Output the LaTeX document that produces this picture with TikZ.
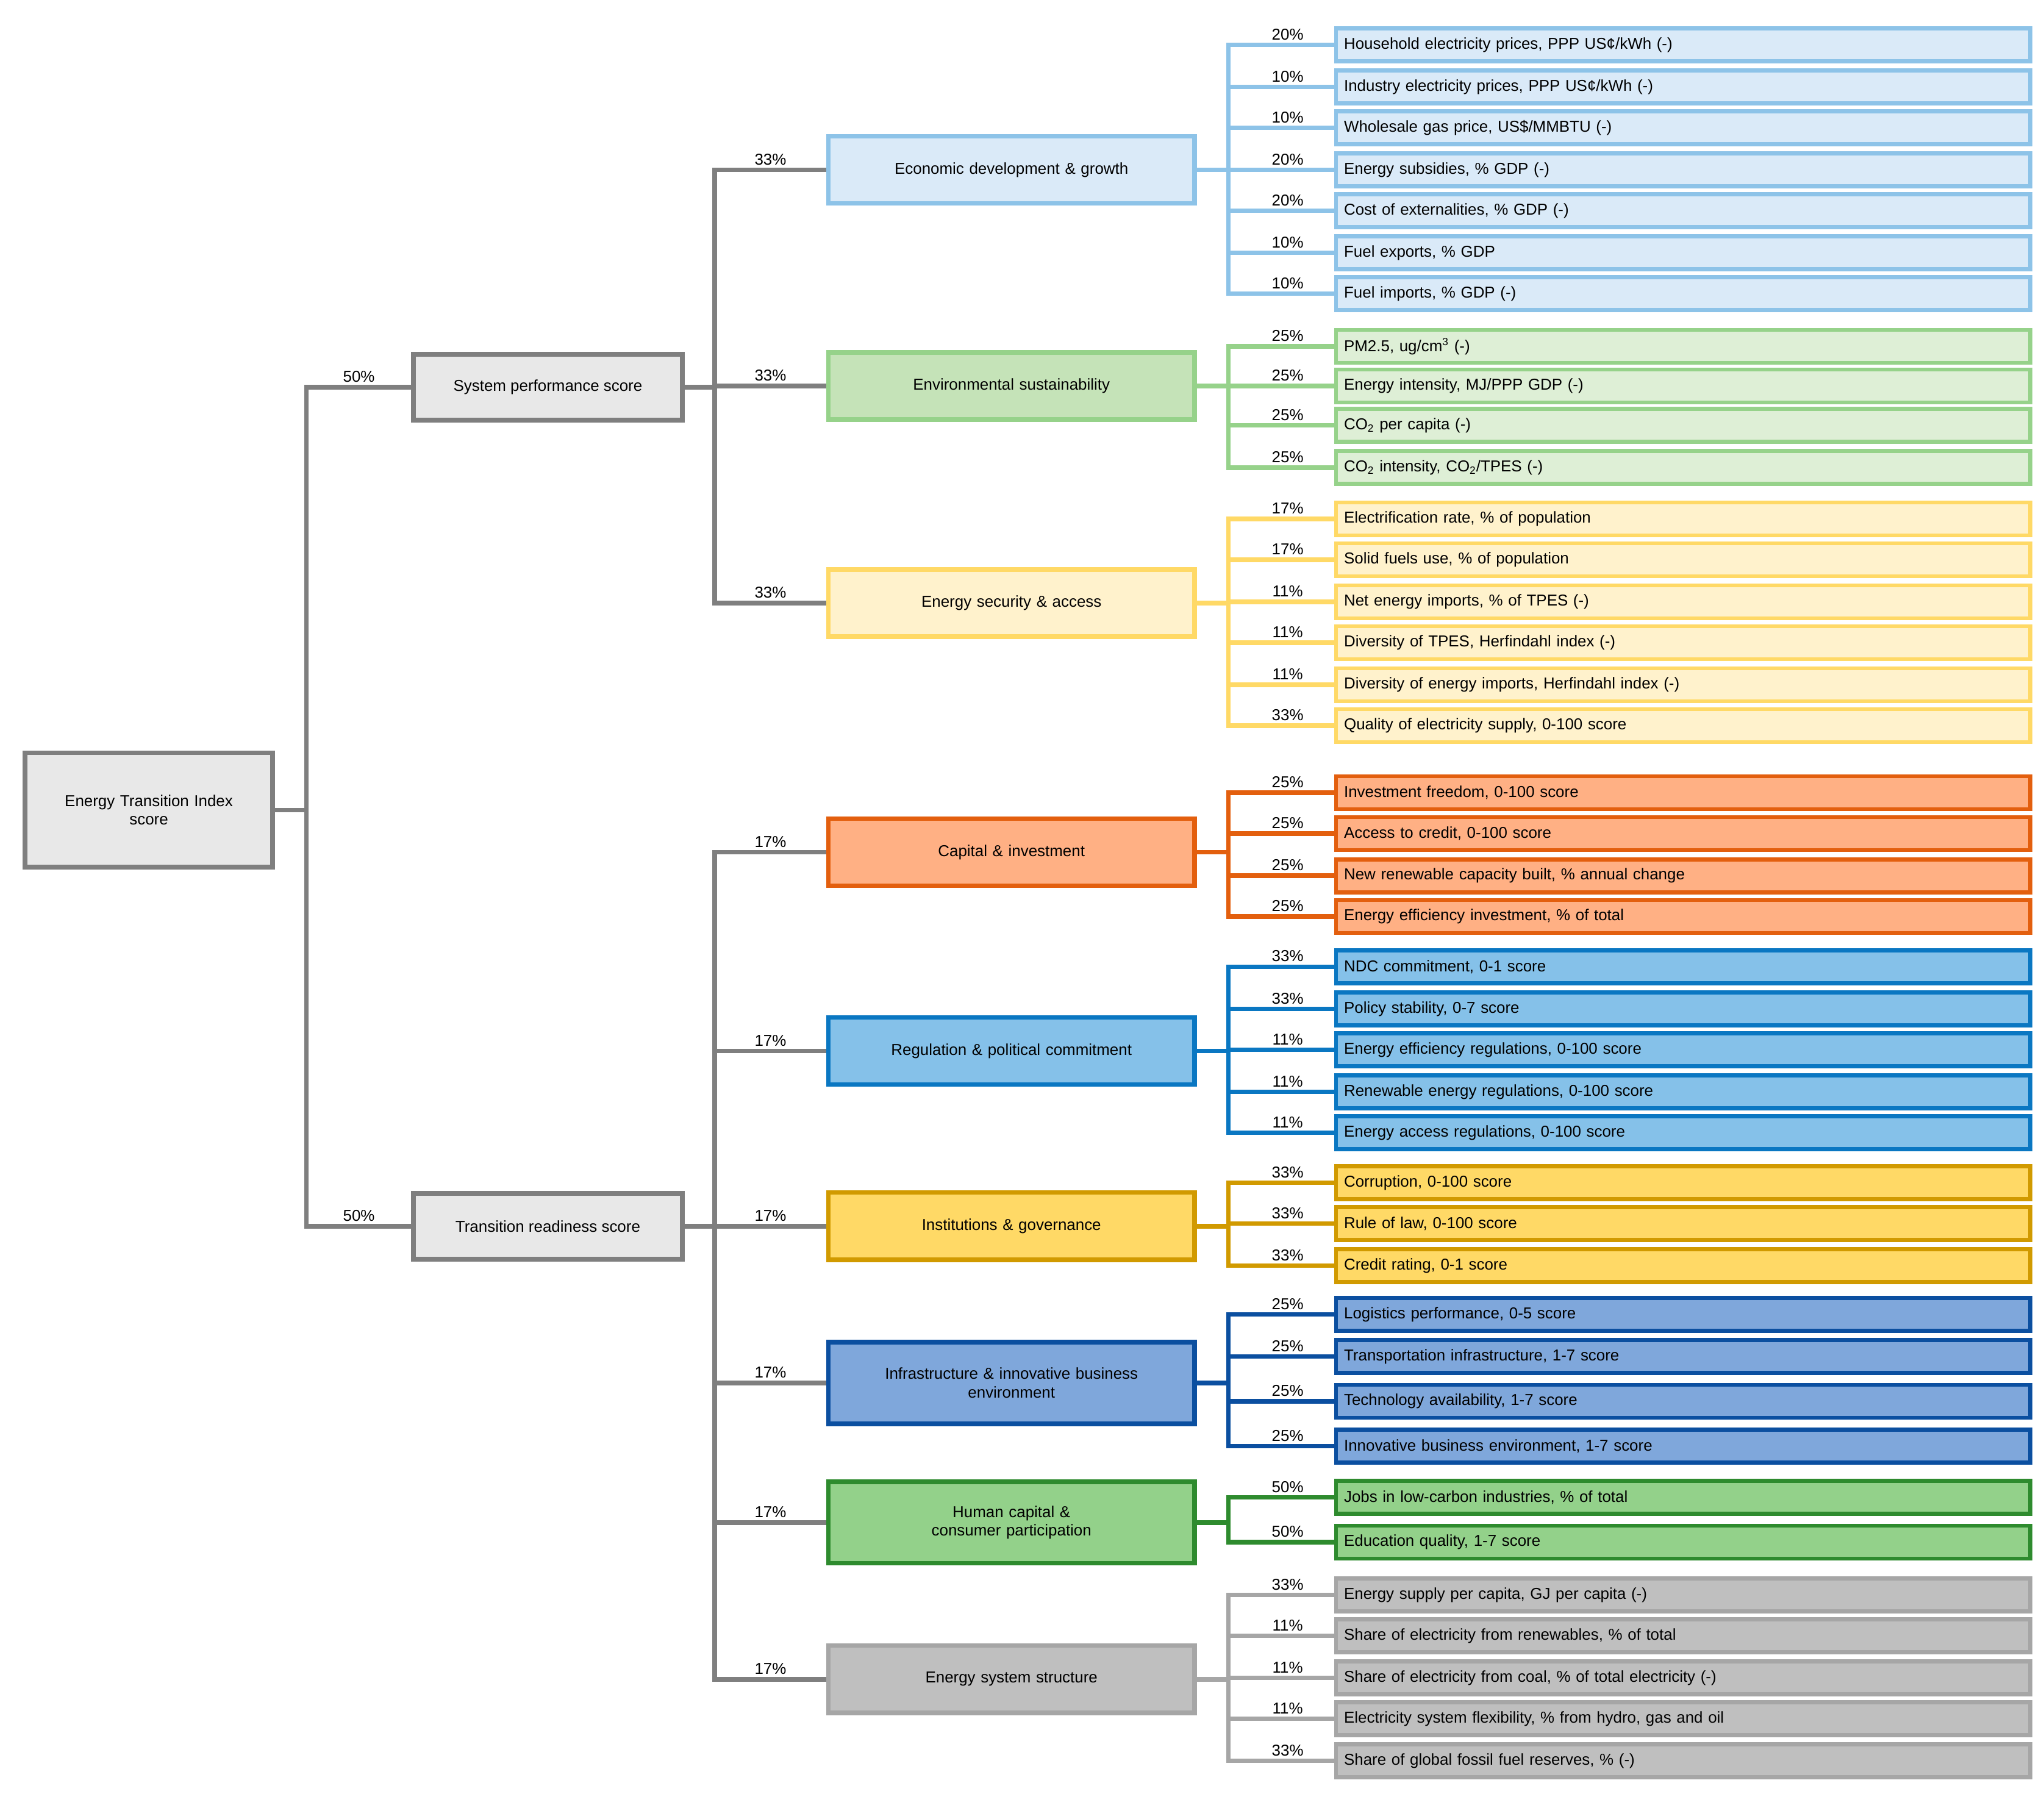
\documentclass[tikz,border=0pt]{standalone}
\usepackage{fontspec}
\setmainfont{Liberation Sans}
\definecolor{gB}{HTML}{7F7F7F}\definecolor{gF}{HTML}{E8E8E8}
\definecolor{eB}{HTML}{8DC3E8}\definecolor{eF}{HTML}{DAEAF8}
\definecolor{vB}{HTML}{96D28A}\definecolor{vF}{HTML}{C5E3B8}\definecolor{vL}{HTML}{DEEFD6}
\definecolor{sB}{HTML}{FFD966}\definecolor{sF}{HTML}{FFF2CC}
\definecolor{cB}{HTML}{E35F0E}\definecolor{cF}{HTML}{FFB084}
\definecolor{rB}{HTML}{0A77C2}\definecolor{rF}{HTML}{85C1E9}
\definecolor{iB}{HTML}{D19A00}\definecolor{iF}{HTML}{FFD966}
\definecolor{fB}{HTML}{0B4FA0}\definecolor{fF}{HTML}{7FA7DB}
\definecolor{hB}{HTML}{2E8B2E}\definecolor{hF}{HTML}{93D18A}
\definecolor{yB}{HTML}{A6A6A6}\definecolor{yF}{HTML}{BFBFBF}
\tikzset{
 box/.style={draw, line width=3.5pt, align=center, inner sep=2pt},
 mid/.style={box, minimum width=278, minimum height=51, text width=260},
 leaf/.style={draw, line width=3pt, anchor=west, minimum width=527, minimum height=25, inner xsep=5pt, inner ysep=0pt, text width=515, align=left},
 con/.style={line width=3.5pt},
 pct/.style={above, inner sep=2pt},
}
\newcommand{\lf}[6]{% name, y, text, pct, border, fill ; parent=\par
 \node[leaf, draw=#5, fill=#6] (#1) at (1013,#2) {#3};
 \draw[con, draw=#5] (\parnode.east) -- ++(24,0) |- (#1.west) node[pct, pos=0.78, text=black]{#4};}
\newcommand{\parnode}{}
\begin{document}
\begin{tikzpicture}[x=1pt,y=-1pt, font=\fontsize{12}{14}\selectfont]
\useasboundingbox (0,0) rectangle (1552,1362);
\node[box, draw=gB, fill=gF, minimum width=188, minimum height=87, text width=175] (root) at (113,615) {Energy Transition Index\\score};
\node[box, draw=gB, fill=gF, minimum width=204, minimum height=50] (sps) at (416,294) {System performance score};
\node[box, draw=gB, fill=gF, minimum width=204, minimum height=50] (trs) at (416,931) {Transition readiness score};
\draw[con, draw=gB] (root.east) -- ++(24,0) |- (sps.west) node[pct, pos=0.75, text=black]{50\%};
\draw[con, draw=gB] (root.east) -- ++(24,0) |- (trs.west) node[pct, pos=0.75, text=black]{50\%};
% level 2
\node[mid, draw=eB, fill=eF] (eco) at (768,129) {Economic development \& growth};
\node[mid, draw=vB, fill=vF] (env) at (768,293) {Environmental sustainability};
\node[mid, draw=sB, fill=sF] (sec) at (768,458) {Energy security \& access};
\node[mid, draw=cB, fill=cF] (cap) at (768,647) {Capital \& investment};
\node[mid, draw=rB, fill=rF] (reg) at (768,798) {Regulation \& political commitment};
\node[mid, draw=iB, fill=iF] (ins) at (768,931) {Institutions \& governance};
\node[mid, draw=fB, fill=fF, minimum height=62] (inf) at (768,1050) {Infrastructure \& innovative business\\environment};
\node[mid, draw=hB, fill=hF, minimum height=62] (hum) at (768,1156) {Human capital \&\\consumer participation};
\node[mid, draw=yB, fill=yF] (ess) at (768,1275) {Energy system structure};
\foreach \n in {eco,env,sec}
 \draw[con, draw=gB] (sps.east) -- ++(23,0) |- (\n.west) node[pct, pos=0.75, text=black]{33\%};
\foreach \n in {cap,reg,ins,inf,hum,ess}
 \draw[con, draw=gB] (trs.east) -- ++(23,0) |- (\n.west) node[pct, pos=0.75, text=black]{17\%};
% leaves
\renewcommand{\parnode}{eco}
\lf{e1}{34}{Household electricity prices, PPP US¢/kWh (-)}{20\%}{eB}{eF}
\lf{e2}{66}{Industry electricity prices, PPP US¢/kWh (-)}{10\%}{eB}{eF}
\lf{e3}{97}{Wholesale gas price, US\$/MMBTU (-)}{10\%}{eB}{eF}
\lf{e4}{129}{Energy subsidies, \% GDP (-)}{20\%}{eB}{eF}
\lf{e5}{160}{Cost of externalities, \% GDP (-)}{20\%}{eB}{eF}
\lf{e6}{192}{Fuel exports, \% GDP}{10\%}{eB}{eF}
\lf{e7}{223}{Fuel imports, \% GDP (-)}{10\%}{eB}{eF}
\renewcommand{\parnode}{env}
\lf{v1}{263}{PM2.5, ug/cm\textsuperscript{3} (-)}{25\%}{vB}{vL}
\lf{v2}{293}{Energy intensity, MJ/PPP GDP (-)}{25\%}{vB}{vL}
\lf{v3}{323}{CO\textsubscript{2} per capita (-)}{25\%}{vB}{vL}
\lf{v4}{355}{CO\textsubscript{2} intensity, CO\textsubscript{2}/TPES (-)}{25\%}{vB}{vL}
\renewcommand{\parnode}{sec}
\lf{s1}{394}{Electrification rate, \% of population}{17\%}{sB}{sF}
\lf{s2}{425}{Solid fuels use, \% of population}{17\%}{sB}{sF}
\lf{s3}{457}{Net energy imports, \% of TPES (-)}{11\%}{sB}{sF}
\lf{s4}{488}{Diversity of TPES, Herfindahl index (-)}{11\%}{sB}{sF}
\lf{s5}{520}{Diversity of energy imports, Herfindahl index (-)}{11\%}{sB}{sF}
\lf{s6}{551}{Quality of electricity supply, 0-100 score}{33\%}{sB}{sF}
\renewcommand{\parnode}{cap}
\lf{c1}{602}{Investment freedom, 0-100 score}{25\%}{cB}{cF}
\lf{c2}{633}{Access to credit, 0-100 score}{25\%}{cB}{cF}
\lf{c3}{665}{New renewable capacity built, \% annual change}{25\%}{cB}{cF}
\lf{c4}{696}{Energy efficiency investment, \% of total}{25\%}{cB}{cF}
\renewcommand{\parnode}{reg}
\lf{r1}{734}{NDC commitment, 0-1 score}{33\%}{rB}{rF}
\lf{r2}{766}{Policy stability, 0-7 score}{33\%}{rB}{rF}
\lf{r3}{797}{Energy efficiency regulations, 0-100 score}{11\%}{rB}{rF}
\lf{r4}{829}{Renewable energy regulations, 0-100 score}{11\%}{rB}{rF}
\lf{r5}{860}{Energy access regulations, 0-100 score}{11\%}{rB}{rF}
\renewcommand{\parnode}{ins}
\lf{i1}{898}{Corruption, 0-100 score}{33\%}{iB}{iF}
\lf{i2}{929}{Rule of law, 0-100 score}{33\%}{iB}{iF}
\lf{i3}{961}{Credit rating, 0-1 score}{33\%}{iB}{iF}
\renewcommand{\parnode}{inf}
\lf{f1}{998}{Logistics performance, 0-5 score}{25\%}{fB}{fF}
\lf{f2}{1030}{Transportation infrastructure, 1-7 score}{25\%}{fB}{fF}
\lf{f3}{1064}{Technology availability, 1-7 score}{25\%}{fB}{fF}
\lf{f4}{1098}{Innovative business environment, 1-7 score}{25\%}{fB}{fF}
\renewcommand{\parnode}{hum}
\lf{h1}{1137}{Jobs in low-carbon industries, \% of total}{50\%}{hB}{hF}
\lf{h2}{1171}{Education quality, 1-7 score}{50\%}{hB}{hF}
\renewcommand{\parnode}{ess}
\lf{y1}{1211}{Energy supply per capita, GJ per capita (-)}{33\%}{yB}{yF}
\lf{y2}{1242}{Share of electricity from renewables, \% of total}{11\%}{yB}{yF}
\lf{y3}{1274}{Share of electricity from coal, \% of total electricity (-)}{11\%}{yB}{yF}
\lf{y4}{1305}{Electricity system flexibility, \% from hydro, gas and oil}{11\%}{yB}{yF}
\lf{y5}{1337}{Share of global fossil fuel reserves, \% (-)}{33\%}{yB}{yF}
\end{tikzpicture}
\end{document}
